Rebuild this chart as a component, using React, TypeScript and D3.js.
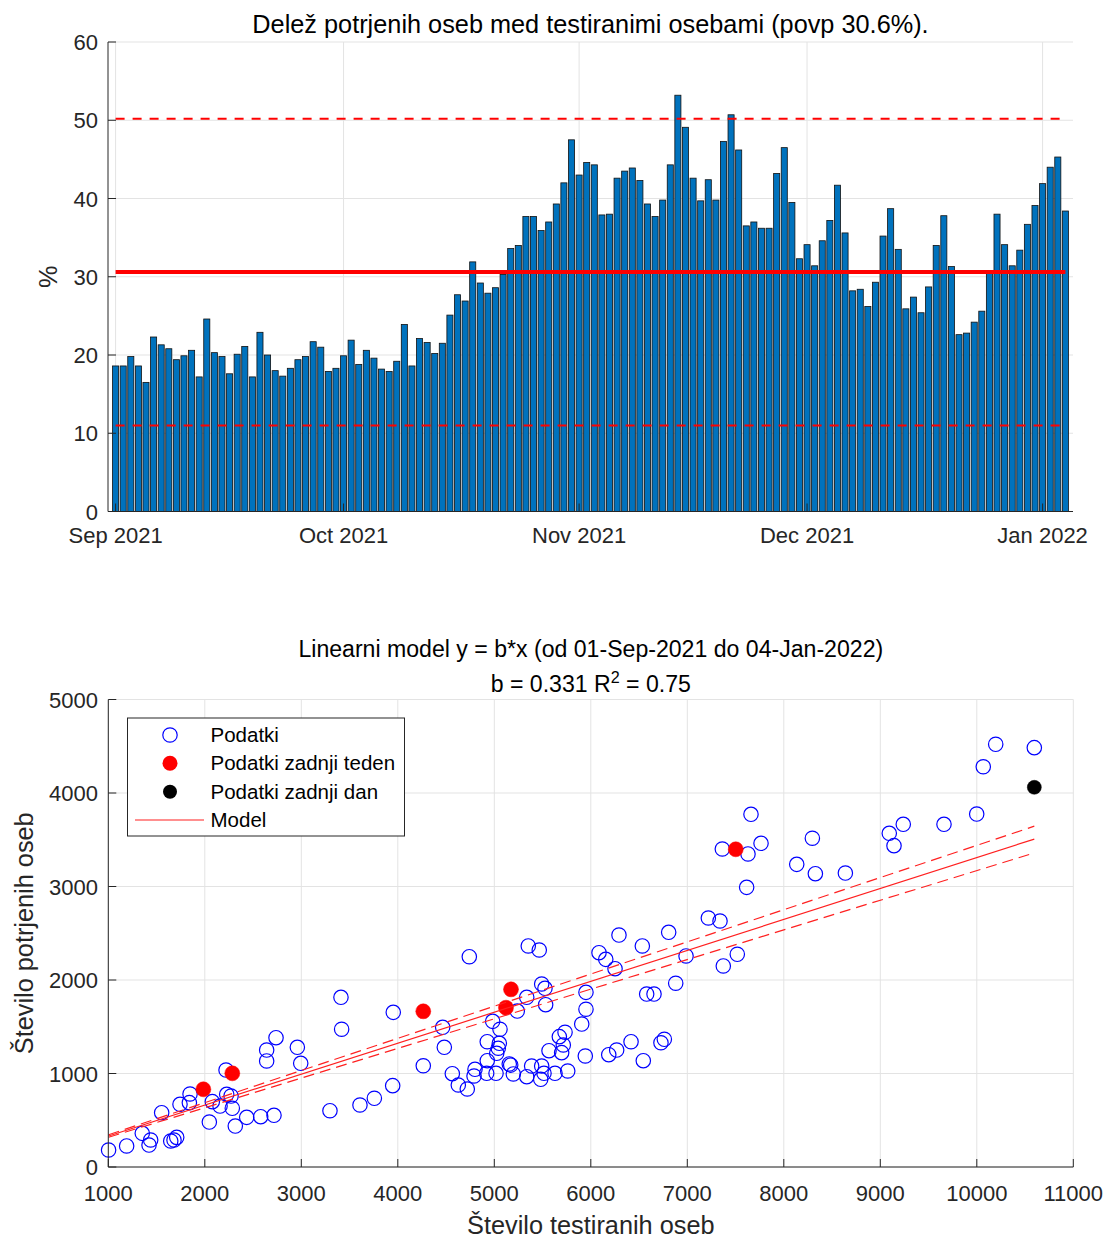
import React from "react";
import * as d3 from "d3";

// ---------- Top chart data: daily share of positives (%) from 1 Sep 2021 ----------
const startDateUTC = Date.UTC(2021, 8, 1);
const pctValues = [
  18.6, 18.6, 19.8, 18.6, 16.5, 22.3, 21.3, 20.8, 19.4, 19.9,
  20.6, 17.2, 24.6, 20.3, 19.8, 17.6, 20.1, 21.1, 17.2, 22.9,
  20.0, 18.0, 17.3, 18.3, 19.4, 19.8, 21.7, 21.0, 17.9, 18.3,
  19.9, 21.9, 18.8, 20.6, 19.6, 18.2, 17.9, 19.2, 23.9, 18.6,
  22.1, 21.6, 20.2, 21.5, 25.1, 27.7, 26.9, 31.9, 29.2, 27.9,
  28.6, 30.3, 33.6, 34.0, 37.7, 37.7, 35.9, 37.0, 39.3, 42.0,
  47.5, 43.0, 44.6, 44.3, 37.9, 38.0, 42.6, 43.5, 43.9, 42.3,
  39.3, 37.7, 39.8, 44.3, 53.2, 49.1, 42.6, 39.7, 42.4, 39.8,
  47.3, 50.7, 46.2, 36.5, 37.0, 36.2, 36.2, 43.2, 46.5, 39.5,
  32.3, 34.1, 31.4, 34.6, 37.2, 41.7, 35.6, 28.2, 28.4, 26.2,
  29.3, 35.2, 38.7, 33.5, 25.9, 27.4, 25.4, 28.7, 34.0, 37.8,
  31.3, 22.6, 22.8, 24.2, 25.6, 30.5, 38.0, 34.1, 31.4, 33.4,
  36.7, 39.1, 41.9, 44.0, 45.3, 38.4,
];
const monthTickDates = [
  Date.UTC(2021, 8, 1), Date.UTC(2021, 9, 1), Date.UTC(2021, 10, 1),
  Date.UTC(2021, 11, 1), Date.UTC(2022, 0, 1),
];
const pctTicks = [0, 10, 20, 30, 40, 50, 60];
const meanPct = 30.6;
const upperPct = 50.2;
const lowerPct = 11.0;
const topTitle = "Delež potrjenih oseb med testiranimi osebami (povp 30.6%).";

// ---------- Bottom chart data: tested vs confirmed ----------
const testedAll = [
  1003, 1190, 1352, 1439, 1422, 1553, 1647, 1681, 1709, 1743,
  1847, 1840, 2047, 2078, 2158, 2220, 2227, 2272, 2285, 2316,
  2434, 2579, 2717, 2641, 2641, 2738, 2959, 2994, 3297, 3411,
  3418, 3608, 3757, 3953, 3947, 4264, 4465, 4482, 4565, 4627,
  4720, 4741, 4790, 4800, 4921, 4927, 4927, 4983, 5018, 5025,
  5052, 5059, 5041, 5155, 5170, 5197, 5238, 5336, 5336, 5352,
  5387, 5466, 5481, 5491, 5491, 5515, 5525, 5532, 5567, 5629,
  5674, 5698, 5715, 5733, 5761, 5906, 5943, 5950, 5950, 6085,
  6155, 6186, 6251, 6268, 6292, 6417, 6534, 6544, 6579, 6655,
  6727, 6762, 6807, 6880, 6987, 7218, 7339, 7373, 7363, 7518,
  7615, 7629, 7660, 7764, 8134, 8296, 8327, 8638, 9093, 9142,
  9238, 9660, 9999, 10067, 10196, 10596,
];
const confirmedAll = [
  182, 225, 360, 289, 235, 581, 278, 289, 317, 670,
  781, 688, 481, 699, 652, 1037, 777, 759, 628, 438,
  531, 538, 553, 1251, 1134, 1383, 1280, 1109, 602, 1815,
  1473, 663, 735, 1654, 870, 1083, 1494, 1280, 998, 877,
  834, 2249, 973, 1045, 1002, 1137, 1340, 1558, 1002, 1216,
  1323, 1473, 1270, 1102, 1090, 995, 1668, 966, 1815, 2364,
  1080, 2321, 938, 1080, 1957, 1002, 1911, 1736, 1244, 1002,
  1394, 1223, 1305, 1441, 1027, 1529, 1187, 1687, 1868, 2292,
  2221, 1201, 2121, 1251, 2481, 1340, 2364, 1137, 1850, 1850,
  1329, 1366, 2510, 1965, 2257, 2663, 2631, 2150, 3401, 2275,
  2991, 3348, 3772, 3462, 3237, 3516, 3137, 3144, 3569, 3437,
  3665, 3665, 3775, 4281, 4521, 4485,
];
const testedWeek = [1985, 2285, 4264, 5121, 5173, 7502];
const confirmedWeek = [831, 1002, 1665, 1704, 1900, 3398];
const testedDay = [10596];
const confirmedDay = [4061];
const slopeB = 0.331;
const slopeLow = 0.317;
const slopeHigh = 0.344;
const xTicksB = [1000, 2000, 3000, 4000, 5000, 6000, 7000, 8000, 9000, 10000, 11000];
const yTicksB = [0, 1000, 2000, 3000, 4000, 5000];
const legendLabels = ["Podatki", "Podatki zadnji teden", "Podatki zadnji dan", "Model"];

const FONT = "'Liberation Sans', Arial, Helvetica, sans-serif";
const AXC = "#262626";
const GRIDC = "#e3e3e3";
const TICKFS = 22;
const LABFS = 25.3;
const TITLEB_FS = 23.1;
const LEGFS = 20.5;

export default function App() {
  // ---- top scales ----
  const day = 24 * 3600 * 1000;
  const xT = d3
    .scaleUtc()
    .domain([new Date(startDateUTC - day), new Date(startDateUTC + pctValues.length * day)])
    .range([108, 1073]);
  const yT = d3.scaleLinear().domain([0, 60]).range([511.5, 42]);
  const dayPx = xT(new Date(startDateUTC + day)) - xT(new Date(startDateUTC));
  const barW = dayPx * 0.8;
  const fmt = d3.utcFormat("%b %Y");
  const firstX = xT(new Date(startDateUTC));
  const lastX = xT(new Date(startDateUTC + (pctValues.length - 1) * day));

  // ---- bottom scales ----
  const xB = d3.scaleLinear().domain([1000, 11000]).range([108.3, 1073.3]);
  const yB = d3.scaleLinear().domain([0, 5000]).range([1167, 699.5]);
  const allX = [...testedAll, ...testedWeek, ...testedDay];
  const xMin = d3.min(allX) as number;
  const xMax = d3.max(allX) as number;
  const modelLine = (b: number) =>
    d3
      .line<number>()
      .x((d) => xB(d))
      .y((d) => yB(b * d))([xMin, xMax]) as string;

  const tickLen = 8;

  return (
    <svg
      width={1110}
      height={1239}
      style={{ position: "absolute", left: 0, top: 0, background: "#fff" }}
      fontFamily={FONT}
    >
      <rect x={0} y={0} width={1110} height={1239} fill="#fff" />
      {/* ================= TOP CHART ================= */}
      <g>
        {pctTicks.map((t) => (
          <line key={"gy" + t} x1={108} x2={1073} y1={yT(t)} y2={yT(t)} stroke={GRIDC} strokeWidth={1} />
        ))}
        {monthTickDates.map((t) => (
          <line key={"gx" + t} x1={xT(new Date(t))} x2={xT(new Date(t))} y1={yT(0)} y2={yT(60)} stroke={GRIDC} strokeWidth={1} />
        ))}
        {pctValues.map((v, i) => {
          const cx = xT(new Date(startDateUTC + i * day));
          return (
            <rect
              key={"b" + i}
              x={cx - barW / 2}
              y={yT(v)}
              width={barW}
              height={yT(0) - yT(v)}
              fill="#0072BD"
              stroke="#111"
              strokeWidth={0.8}
            />
          );
        })}
        <line x1={firstX} x2={lastX} y1={yT(meanPct)} y2={yT(meanPct)} stroke="#ff0000" strokeWidth={4} />
        <line x1={firstX} x2={lastX} y1={yT(upperPct)} y2={yT(upperPct)} stroke="#ff0000" strokeWidth={2} strokeDasharray="9,8" />
        <line x1={firstX} x2={lastX} y1={yT(lowerPct)} y2={yT(lowerPct)} stroke="#ff0000" strokeWidth={2} strokeDasharray="9,8" />
        {/* axes */}
        <line x1={108} x2={1073} y1={yT(0)} y2={yT(0)} stroke={AXC} strokeWidth={1} />
        <line x1={108} x2={108} y1={yT(0)} y2={yT(60)} stroke={AXC} strokeWidth={1} />
        {pctTicks.map((t) => (
          <g key={"ty" + t}>
            <line x1={108} x2={108 + tickLen} y1={yT(t)} y2={yT(t)} stroke={AXC} />
            <text x={98} y={yT(t) + 8} textAnchor="end" fontSize={TICKFS} fill={AXC}>
              {t}
            </text>
          </g>
        ))}
        {monthTickDates.map((t) => (
          <g key={"tx" + t}>
            <line x1={xT(new Date(t))} x2={xT(new Date(t))} y1={yT(0)} y2={yT(0) - tickLen} stroke={AXC} />
            <text x={xT(new Date(t))} y={543} textAnchor="middle" fontSize={TICKFS} fill={AXC}>
              {fmt(new Date(t))}
            </text>
          </g>
        ))}
        <text x={590.5} y={33} textAnchor="middle" fontSize={LABFS} fill="#000">
          {topTitle}
        </text>
        <text transform={`translate(57,${yT(30)}) rotate(-90)`} textAnchor="middle" fontSize={LABFS} fill={AXC}>
          %
        </text>
      </g>

      {/* ================= BOTTOM CHART ================= */}
      <g>
        {yTicksB.map((t) => (
          <line key={"gby" + t} x1={xB(1000)} x2={xB(11000)} y1={yB(t)} y2={yB(t)} stroke={GRIDC} strokeWidth={1} />
        ))}
        {xTicksB.map((t) => (
          <line key={"gbx" + t} x1={xB(t)} x2={xB(t)} y1={yB(0)} y2={yB(5000)} stroke={GRIDC} strokeWidth={1} />
        ))}
        {testedAll.map((x, i) => (
          <circle key={"p" + i} cx={xB(x)} cy={yB(confirmedAll[i])} r={7.2} fill="none" stroke="#0000ff" strokeWidth={1.2} />
        ))}
        {testedWeek.map((x, i) => (
          <circle key={"w" + i} cx={xB(x)} cy={yB(confirmedWeek[i])} r={7.5} fill="#ff0000" stroke="#ff0000" strokeWidth={0.5} />
        ))}
        {testedDay.map((x, i) => (
          <circle key={"d" + i} cx={xB(x)} cy={yB(confirmedDay[i])} r={7} fill="#000" stroke="#000" strokeWidth={0.5} />
        ))}
        <path d={modelLine(slopeB)} stroke="#ff2020" strokeWidth={1.2} fill="none" />
        <path d={modelLine(slopeHigh)} stroke="#ff2020" strokeWidth={1.2} fill="none" strokeDasharray="11,6" />
        <path d={modelLine(slopeLow)} stroke="#ff2020" strokeWidth={1.2} fill="none" strokeDasharray="11,6" />
        {/* axes */}
        <line x1={xB(1000)} x2={xB(11000)} y1={yB(0)} y2={yB(0)} stroke={AXC} strokeWidth={1} />
        <line x1={xB(1000)} x2={xB(1000)} y1={yB(0)} y2={yB(5000)} stroke={AXC} strokeWidth={1} />
        {yTicksB.map((t) => (
          <g key={"tby" + t}>
            <line x1={xB(1000)} x2={xB(1000) + tickLen} y1={yB(t)} y2={yB(t)} stroke={AXC} />
            <text x={98} y={yB(t) + 8} textAnchor="end" fontSize={TICKFS} fill={AXC}>
              {t}
            </text>
          </g>
        ))}
        {xTicksB.map((t) => (
          <g key={"tbx" + t}>
            <line x1={xB(t)} x2={xB(t)} y1={yB(0)} y2={yB(0) - tickLen} stroke={AXC} />
            <text x={xB(t)} y={1201} textAnchor="middle" fontSize={TICKFS} fill={AXC}>
              {t}
            </text>
          </g>
        ))}
        <text x={590.8} y={657} textAnchor="middle" fontSize={TITLEB_FS} fill="#000">
          Linearni model y = b*x (od 01-Sep-2021 do 04-Jan-2022)
        </text>
        <text x={590.8} y={692} textAnchor="middle" fontSize={TITLEB_FS} fill="#000">
          b = 0.331 R
          <tspan dy={-9} fontSize={TITLEB_FS * 0.7}>2</tspan>
          <tspan dy={9}> = 0.75</tspan>
        </text>
        <text x={590.8} y={1234} textAnchor="middle" fontSize={LABFS} fill={AXC}>
          Število testiranih oseb
        </text>
        <text transform={`translate(33,${(yB(0) + yB(5000)) / 2}) rotate(-90)`} textAnchor="middle" fontSize={LABFS} fill={AXC}>
          Število potrjenih oseb
        </text>
        {/* legend */}
        <rect x={127.5} y={718} width={277} height={118} fill="#fff" stroke={AXC} strokeWidth={1} />
        <circle cx={170} cy={735} r={7.2} fill="none" stroke="#0000ff" strokeWidth={1.2} />
        <circle cx={170} cy={763.3} r={7.5} fill="#ff0000" />
        <circle cx={170} cy={791.7} r={7} fill="#000" />
        <line x1={135} x2={204} y1={820} y2={820} stroke="#ff2020" strokeWidth={1.2} />
        {legendLabels.map((l, i) => (
          <text key={"lg" + i} x={210.5} y={735 + i * 28.35 + 7} fontSize={LEGFS} fill="#000">
            {l}
          </text>
        ))}
      </g>
    </svg>
  );
}
